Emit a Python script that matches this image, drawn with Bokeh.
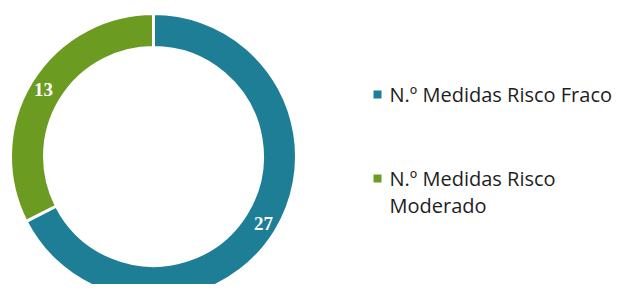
import math
from bokeh.plotting import figure
from bokeh.models import Range1d, ColumnDataSource
from bokeh.core.properties import value
from bokeh.embed import file_html
from bokeh.resources import INLINE

categories = ["N.º Medidas Risco Fraco", "N.º Medidas Risco Moderado"]
legend_labels = ["N.º Medidas Risco Fraco", "N.º Medidas Risco\nModerado"]
values = [27, 13]
colors = ["#1D7E96", "#6C9B22"]

W, H = 614, 284
p = figure(width=W, height=H, output_backend="svg", toolbar_location=None,
           x_range=Range1d(0, W), y_range=Range1d(0, H), min_border=0)
p.axis.visible = False
p.grid.visible = False
p.outline_line_color = None
p.background_fill_color = "white"
p.border_fill_color = "white"

cx, cy = 153, 128
r_out, r_in = 143, 109
total = sum(values)
starts, ends, mids = [], [], []
a = math.pi / 2
for v in values:
    span = v / total * 2 * math.pi
    starts.append(a)
    ends.append(a - span)
    mids.append(a - span / 2)
    a -= span

src = ColumnDataSource(dict(start=starts, end=ends, color=colors, cat=categories))
p.annular_wedge(x=cx, y=cy, inner_radius=r_in, outer_radius=r_out,
                start_angle="start", end_angle="end", direction="clock",
                fill_color="color", line_color="white", line_width=3, source=src)

r_lab = 129
lx = [cx + r_lab * math.cos(m) for m in mids]
ly = [cy + r_lab * math.sin(m) for m in mids]
p.text(x=lx, y=ly, text=[str(v) for v in values], text_color="white",
       text_font=value("Liberation Serif"), text_font_style="bold",
       text_font_size="19px", text_align="center", text_baseline="middle")

# legend
leg_x = 377
leg_y = [190, 106]
pitch = 27
p.scatter(x=[leg_x] * 2, y=leg_y, marker="square", size=8,
          fill_color=colors, line_color=None)
tx, ty, tt = [], [], []
for lab, y in zip(legend_labels, leg_y):
    for i, line in enumerate(lab.split("\n")):
        tx.append(leg_x + 12)
        ty.append(y - i * pitch)
        tt.append(line)
p.text(x=tx, y=ty, text=tt,
       text_color="#1E1E1E", text_font=value("Open Sans"), text_font_size="20px",
       text_align="left", text_baseline="middle")

open("out.html", "w").write(file_html(p, INLINE))
